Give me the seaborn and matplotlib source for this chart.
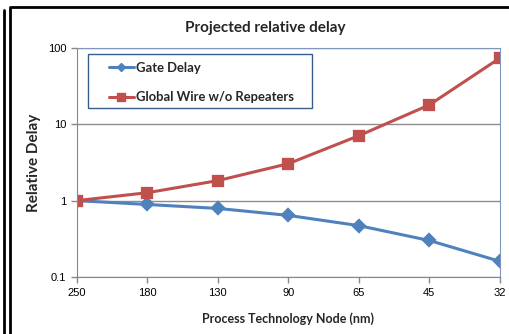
import pandas as pd
import matplotlib.pyplot as plt
import seaborn as sns
from matplotlib.lines import Line2D
from matplotlib.patches import Rectangle

# Values (relative to 250 nm)
nodes = ['250', '180', '130', '90', '65', '45', '32']
gate_delay = [1.0, 0.89, 0.79, 0.64, 0.47, 0.30, 0.16]
wire_delay = [1.0, 1.27, 1.83, 3.05, 7.1, 18.0, 74.0]
series_names = ['Gate Delay', 'Global Wire w/o Repeaters']

df = pd.DataFrame({
    'node': nodes * 2,
    'delay': gate_delay + wire_delay,
    'series': [series_names[0]] * len(nodes) + [series_names[1]] * len(nodes),
})

sns.set_style('white')
plt.rcParams['font.family'] = ['Liberation Sans', 'DejaVu Sans']

fig = plt.figure(figsize=(5.09, 3.34), dpi=100)
ax = fig.add_axes([0.151, 0.171, 0.831, 0.685])

colors = ['#4F81BD', '#C0504D']
sns.pointplot(data=df, x='node', y='delay', hue='series', order=nodes,
              hue_order=series_names, palette=colors, markers=['D', 's'],
              markersize=6.5, linewidth=2.2, dodge=False, ax=ax, legend=False)

ax.set_yscale('log')
ax.set_ylim(0.1, 100)
ax.set_xlim(0, len(nodes) - 1)
ax.set_yticks([0.1, 1, 10, 100])
ax.set_yticklabels(['0.1', '1', '10', '100'])
ax.minorticks_off()
ax.yaxis.grid(True, color='#8c8c8c', linewidth=1)
ax.xaxis.grid(False)
ax.tick_params(axis='both', labelsize=8, colors='#888888', labelcolor='black',
               length=4, width=1, direction='out', left=True, bottom=True)
ax.tick_params(axis='x', pad=4)

for side in ['left', 'bottom']:
    ax.spines[side].set_color('#888888')
for side in ['top', 'right']:
    ax.spines[side].set_visible(True)
    ax.spines[side].set_color('#7f96bd')

label_font = ['Lato', 'DejaVu Sans']
ax.set_xlabel('Process Technology Node (nm)', fontsize=9, fontweight='bold',
              family=label_font, labelpad=10)
ax.set_ylabel('Relative Delay', fontsize=11, fontweight='bold',
              family=label_font, labelpad=5)
fig.text(0.522, 0.915, 'Projected relative delay', ha='center', va='center',
         fontsize=11, fontweight='bold', family=label_font)

# legend: frame drawn separately so the side padding can be wider than the top
ax.add_patch(Rectangle((0.026, 0.738), 0.530, 0.236, transform=ax.transAxes,
                       facecolor='white', edgecolor='#385D8A', linewidth=1,
                       zorder=4))
handles = [Line2D([], [], color=colors[0], marker='D', markersize=4.5, linewidth=2.2),
           Line2D([], [], color=colors[1], marker='s', markersize=6, linewidth=2.2)]
leg = ax.legend(handles, series_names, loc='upper left',
                bbox_to_anchor=(0.0757, 0.940), frameon=False,
                prop={'family': label_font, 'weight': 'bold', 'size': 9.4},
                handlelength=1.9, handletextpad=0.15, labelspacing=1.35,
                borderpad=0, borderaxespad=0)
leg.set_zorder(5)

# outer frames of the slide
W, H = 509, 334
fig.add_artist(Line2D([4 / W, 4 / W], [0, 1 - 10 / H], color='black', linewidth=2,
                      transform=fig.transFigure))
fig.add_artist(Line2D([10 / W, 10 / W, 1], [0, 1 - 7 / H, 1 - 7 / H], color='black',
                      linewidth=2, transform=fig.transFigure))

fig.savefig('out.png', dpi=100)
